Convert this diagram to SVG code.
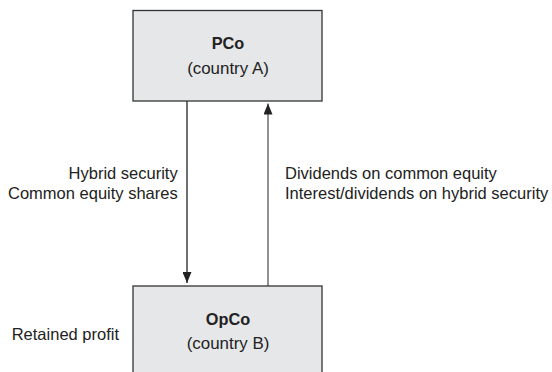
<svg xmlns="http://www.w3.org/2000/svg" width="552" height="372" viewBox="0 0 552 372">
  <style>
    .box { fill: #e6e7e8; stroke: #333333; stroke-width: 1.3; }
    .t { font-family: "Liberation Sans", Arial, sans-serif; fill: #222222; }
    .title { font-size: 16.3px; font-weight: bold; text-anchor: middle; }
    .sub { font-size: 16.9px; text-anchor: middle; }
    .lbl { font-size: 16.5px; }
    .conn { fill: none; stroke-width: 1.3; }
  </style>
  <defs>
    <marker id="arrow" viewBox="0 0 11 9" refX="11" refY="4.5" markerWidth="11" markerHeight="9" markerUnits="userSpaceOnUse" orient="auto">
      <path d="M0,0 L11,4.5 L0,9 z" fill="#222222"/>
    </marker>
  </defs>
  <rect width="552" height="372" fill="#ffffff"/>
  <g id="connectors">
    <line class="conn" x1="187" y1="101" x2="187" y2="283" stroke="#222222" marker-end="url(#arrow)"/>
    <line class="conn" x1="268" y1="286" x2="268" y2="103.5" stroke="#555555" stroke-width="1.6" marker-end="url(#arrow)"/>
  </g>
  <g id="pco">
    <rect class="box" x="133" y="10.5" width="189" height="90.5"/>
    <text class="t title" x="228" y="49.3">PCo</text>
    <text class="t sub" x="228" y="73.5">(country A)</text>
  </g>
  <g id="opco">
    <rect class="box" x="133" y="286" width="189" height="100"/>
    <text class="t title" x="228" y="325">OpCo</text>
    <text class="t sub" x="228" y="349">(country B)</text>
  </g>
  <g id="labels">
    <text class="t lbl" x="177.7" y="179.3" text-anchor="end" font-size="15.6">Hybrid security</text>
    <text class="t lbl" x="177.7" y="199.3" text-anchor="end" font-size="15.6">Common equity shares</text>
    <text class="t lbl" x="285" y="179.3">Dividends on common equity</text>
    <text class="t lbl" x="285" y="199.3">Interest/dividends on hybrid security</text>
    <text class="t lbl" x="11.7" y="340" font-size="16.3">Retained profit</text>
  </g>
</svg>
